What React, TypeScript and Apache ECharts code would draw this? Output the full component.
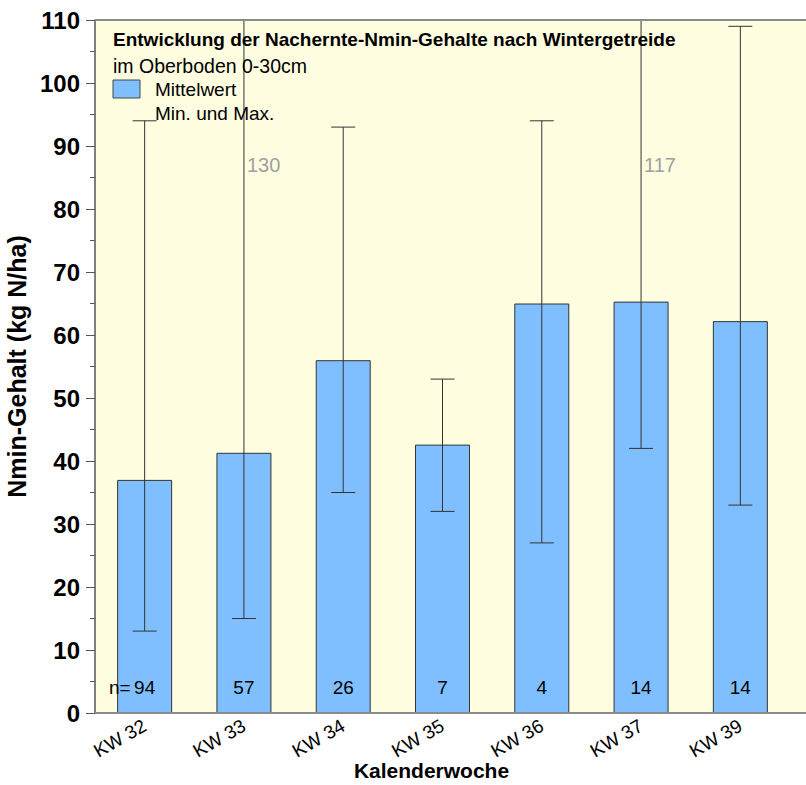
import React, { useEffect, useRef } from "react";
import * as echarts from "echarts";

const categories = ["KW 32", "KW 33", "KW 34", "KW 35", "KW 36", "KW 37", "KW 39"];
const meanValues = [37, 41.3, 56, 42.6, 65, 65.3, 62.2];
const minValues = [13, 15, 35, 32, 27, 42, 33];
const maxValues = [94, 130, 93, 53, 94, 117, 109];
const nValues = [94, 57, 26, 7, 4, 14, 14];

const FONT = "'Liberation Sans', Arial, sans-serif";
const BAR_COLOR = "#80BFFF";
const BG = "#FFFEE0";
const Y_MAX = 110;

export default function App() {
  const ref = useRef<HTMLDivElement>(null);
  useEffect(() => {
    if (!ref.current) return;
    const chart = echarts.init(ref.current, null, { renderer: "svg" });
    const errData = categories.map((_, i) => [i, minValues[i], maxValues[i], nValues[i]]);
    chart.setOption({
      animation: false,
      grid: {
        left: 95,
        right: 16,
        top: 20,
        bottom: 72,
        show: true,
        backgroundColor: BG,
        borderWidth: 0,
        containLabel: false,
        outerBoundsMode: "none",
      },
      graphic: [
        { type: "rect", z: -10, shape: { x: 789, y: 20, width: 20, height: 693 }, style: { fill: BG } },
        { type: "line", z: 10, shape: { x1: 95, y1: 20, x2: 806, y2: 20 }, style: { stroke: "#8a8a8a", lineWidth: 2 } },
        { type: "line", z: 10, shape: { x1: 95, y1: 713, x2: 806, y2: 713 }, style: { stroke: "#8a8a8a", lineWidth: 2 } },
        {
          type: "text", z: 20, x: 113, y: 39,
          style: { text: "Entwicklung der Nachernte-Nmin-Gehalte nach Wintergetreide", font: `bold 19px ${FONT}`, fill: "#000", textVerticalAlign: "middle" },
        },
        {
          type: "text", z: 20, x: 113, y: 66,
          style: { text: "im Oberboden 0-30cm", font: `19.5px ${FONT}`, fill: "#000", textVerticalAlign: "middle" },
        },
        {
          type: "rect", z: 20, shape: { x: 113, y: 80, width: 27, height: 18 },
          style: { fill: BAR_COLOR, stroke: "#444", lineWidth: 1 },
        },
        {
          type: "text", z: 20, x: 155, y: 89.5,
          style: { text: "Mittelwert", font: `19px ${FONT}`, fill: "#000", textVerticalAlign: "middle" },
        },
        {
          type: "text", z: 20, x: 155, y: 113.5,
          style: { text: "Min. und Max.", font: `19px ${FONT}`, fill: "#000", textVerticalAlign: "middle" },
        },
      ],
      xAxis: {
        type: "category",
        data: categories,
        name: "Kalenderwoche",
        nameLocation: "middle",
        nameGap: 47,
        nameMoveOverlap: false,
        nameTextStyle: { fontFamily: FONT, fontWeight: "bold", fontSize: 21, color: "#000", padding: [0, 22, 0, 0] },
        axisLine: { show: false },
        axisTick: { show: false },
        axisLabel: { rotate: 30, fontFamily: FONT, fontSize: 19, color: "#000", margin: 11 },
      },
      yAxis: {
        type: "value",
        min: 0,
        max: Y_MAX,
        interval: 10,
        name: "Nmin-Gehalt (kg N/ha)",
        nameLocation: "middle",
        nameGap: 57,
        nameTextStyle: { fontFamily: FONT, fontWeight: "bold", fontSize: 25, color: "#000" },
        axisLine: { show: true, lineStyle: { color: "#555", width: 1.5 } },
        axisTick: { show: true, inside: false, length: 9, lineStyle: { color: "#555" } },
        minorTick: { show: true, splitNumber: 2, length: 5, lineStyle: { color: "#555" } },
        splitLine: { show: false },
        axisLabel: { fontFamily: FONT, fontWeight: "bold", fontSize: 24, color: "#000", margin: 15 },
      },
      series: [
        {
          type: "bar",
          data: meanValues,
          barWidth: 55,
          itemStyle: { color: BAR_COLOR, borderColor: "#333", borderWidth: 1 },
          z: 2,
        },
        {
          type: "custom",
          data: errData,
          z: 5,
          clip: false,
          renderItem: (params: any, api: any) => {
            const idx = api.value(0);
            const lo = api.value(1);
            const hi = api.value(2);
            const n = api.value(3);
            const pLo = api.coord([idx, lo]);
            const hiClamped = Math.min(hi, Y_MAX);
            const pHi = api.coord([idx, hiClamped]);
            const x = pLo[0];
            const hw = 12;
            const stroke = { stroke: "#333", lineWidth: 1 };
            const children: any[] = [
              { type: "line", shape: { x1: x, y1: pLo[1], x2: x, y2: pHi[1] }, style: stroke },
              { type: "line", shape: { x1: x - hw, y1: pLo[1], x2: x + hw, y2: pLo[1] }, style: stroke },
            ];
            if (hi <= Y_MAX) {
              children.push({ type: "line", shape: { x1: x - hw, y1: pHi[1], x2: x + hw, y2: pHi[1] }, style: stroke });
            } else {
              const pt = api.coord([idx, 87]);
              children.push({
                type: "text",
                style: { x: x + 3, y: pt[1], text: String(hi), font: `20px ${FONT}`, fill: "#a0a0a0", textAlign: "left", textVerticalAlign: "middle" },
              });
            }
            const pn = api.coord([idx, 4]);
            children.push({
              type: "text",
              style: { x: x, y: pn[1], text: String(n), font: `19px ${FONT}`, fill: "#000", textAlign: "center", textVerticalAlign: "middle" },
            });
            if (idx === 0) {
              children.push({
                type: "text",
                style: { x: x - 14, y: pn[1], text: "n=", font: `19px ${FONT}`, fill: "#000", textAlign: "right", textVerticalAlign: "middle" },
              });
            }
            return { type: "group", children };
          },
        },
      ],
    });
    return () => chart.dispose();
  }, []);
  return <div ref={ref} style={{ position: "absolute", left: 0, top: 0, width: 806, height: 785 }} />;
}
